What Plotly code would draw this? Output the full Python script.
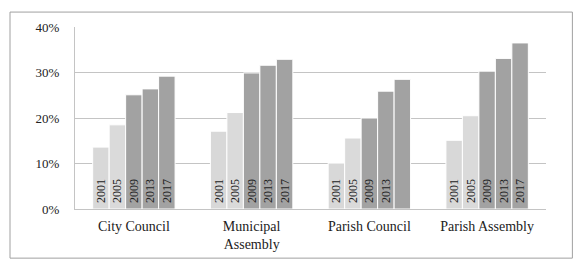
import plotly.graph_objects as go

categories = ["City Council", "Municipal<br>Assembly", "Parish Council", "Parish Assembly"]
years = ["2001", "2005", "2009", "2013", "2017"]
values = {
    "2001": [13.6, 17.1, 10.1, 15.1],
    "2005": [18.5, 21.2, 15.6, 20.5],
    "2009": [25.1, 29.9, 20.0, 30.3],
    "2013": [26.4, 31.6, 25.9, 33.1],
    "2017": [29.2, 32.9, 28.5, 36.5],
}
# bar labels as shown (the Parish Council 2017 bar carries no label)
labels = {
    "2001": ["2001", "2001", "2001", "2001"],
    "2005": ["2005", "2005", "2005", "2005"],
    "2009": ["2009", "2009", "2009", "2009"],
    "2013": ["2013", "2013", "2013", "2013"],
    "2017": ["2017", "2017", "", "2017"],
}
colors = {"2001": "#d8d8d8", "2005": "#dadada", "2009": "#a2a2a2", "2013": "#a2a2a2", "2017": "#a2a2a2"}

FONT = "Liberation Serif"

fig = go.Figure()
for y in years:
    fig.add_trace(go.Bar(
        x=categories, y=[v / 100 for v in values[y]], name=y,
        text=["\u00a0" + t if t else "" for t in labels[y]],
        textposition="inside", insidetextanchor="start",
        textangle=-90, textfont=dict(family=FONT, size=12, color="#222222"),
        marker=dict(color=colors[y], line=dict(color="white", width=1)),
    ))

# the page body adds an 8px margin, so the figure is sized/positioned to compensate
fig.update_layout(
    width=574, height=257,
    margin=dict(l=67, r=36, t=16, b=56),
    barmode="group", bargap=0.30, bargroupgap=0,
    showlegend=False,
    plot_bgcolor="white", paper_bgcolor="white",
    font=dict(family=FONT, size=13, color="#222222"),
    uniformtext=dict(mode="show", minsize=12),
    shapes=[dict(type="rect", xref="paper", yref="paper",
                 x0=-0.138, x1=1.056, y0=-0.270, y1=1.082,
                 line=dict(color="#a0a0a0", width=1), fillcolor="rgba(0,0,0,0)", layer="below")],
)
fig.update_yaxes(range=[0, 0.40], tickvals=[0, 0.1, 0.2, 0.3, 0.4], tickformat=".0%",
                 showgrid=True, gridcolor="#c4c4c4", gridwidth=1,
                 showline=True, linecolor="#c4c4c4", zeroline=False,
                 ticks="", ticklabelstandoff=12, tickfont=dict(size=13))
fig.update_xaxes(showline=True, linecolor="#c4c4c4", ticks="", showgrid=False,
                 tickfont=dict(size=14), ticklabelstandoff=4)

fig.write_html("out.html")
